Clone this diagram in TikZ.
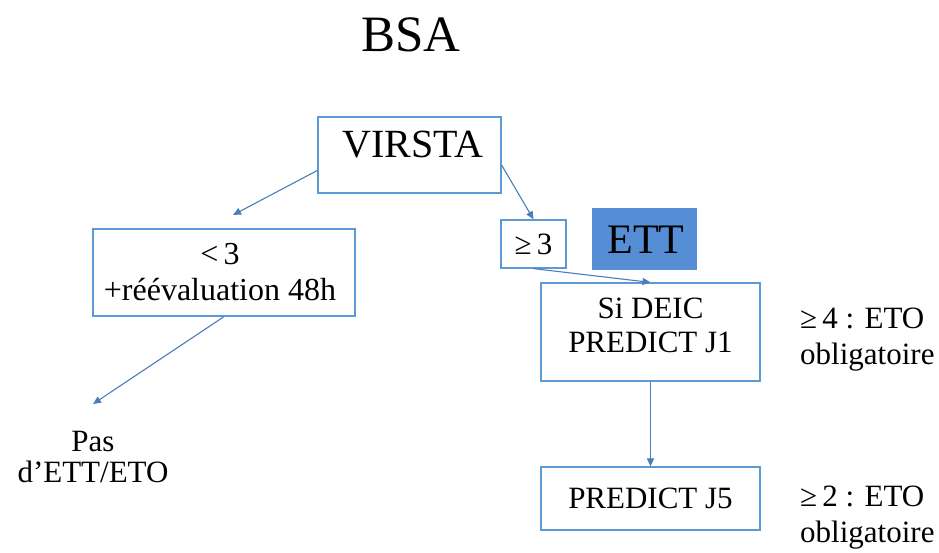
\documentclass[tikz,border=0pt]{standalone}
\usepackage{fontspec}
\setmainfont{Liberation Serif}
\usetikzlibrary{arrows.meta,calc}
\definecolor{boxline}{RGB}{91,155,213}
\definecolor{arrline}{RGB}{74,126,187}
\definecolor{ettfill}{RGB}{85,142,213}
\begin{document}
\begin{tikzpicture}[x=1pt,y=-1pt,
  box/.style={draw=boxline,line width=1.2pt,inner sep=0pt},
  txt/.style={inner sep=0pt,font=\fontsize{31}{35}\selectfont,align=center},
  arr/.style={draw=arrline,line width=1.1pt,-{Triangle[length=8pt,width=7pt]}}]
\useasboundingbox[fill=white] (0,0) rectangle (939,553);
% title
\node[inner sep=0pt,font=\fontsize{51}{60}\selectfont] (title) at (411,35) {BSA};
% boxes
\node[box,minimum width=183pt,minimum height=76pt] (virsta) at (409.5,155) {};
\node[inner sep=0pt,font=\fontsize{40}{48}\selectfont] (virstatxt) at (413,145) {VIRSTA};
\node[box,minimum width=262pt,minimum height=87pt] (lt) at (224,272.5) {};
\node[txt,font=\fontsize{32}{36}\selectfont] (lttxt) at (220,272) {<\,3\\+réévaluation 48h};
\node[box,minimum width=65pt,minimum height=48pt] (ge) at (533.5,244) {};
\node[txt] (getxt) at (533.5,244) {≥\,3};
\node[fill=ettfill,minimum width=105pt,minimum height=62pt,inner sep=0pt] (ett) at (644.5,239) {};
\node[inner sep=0pt,font=\fontsize{42}{48}\selectfont] (etttxt) at (646,240) {ETT};
\node[box,minimum width=219pt,minimum height=98pt] (j1) at (650.5,332) {};
\node[txt,font=\fontsize{31}{34}\selectfont] (j1txt) at (650.5,325) {Si DEIC\\PREDICT J1};
\node[box,minimum width=219pt,minimum height=63pt] (j5) at (650.5,498.5) {};
\node[txt] (j5txt) at (650.5,498) {PREDICT J5};
% side notes
\node[txt,align=left,anchor=west,font=\fontsize{31}{36}\selectfont] (n1) at (800,340) {≥\,4 : ETO\\obligatoire};
\node[txt,align=left,anchor=west,font=\fontsize{31}{36}\selectfont] (n2) at (800,518) {≥\,2 : ETO\\obligatoire};
\node[txt,font=\fontsize{31}{31}\selectfont] (pas) at (93,457) {Pas\\d’ETT/ETO};
% arrows
\coordinate (e1) at (233,215);
\coordinate (e5) at (93,404);
\draw[arr] ($(virsta.south west)!0.3!(virsta.north west)$) -- (e1);
\draw[arr] ($(virsta.south east)!0.37!(virsta.north east)$) -- (ge.north);
\draw[arr] (ge.south) -- (j1.north);
\draw[arr] (j1.south) -- (j5.north);
\draw[arr] (lt.south) -- (e5);
\end{tikzpicture}
\end{document}
